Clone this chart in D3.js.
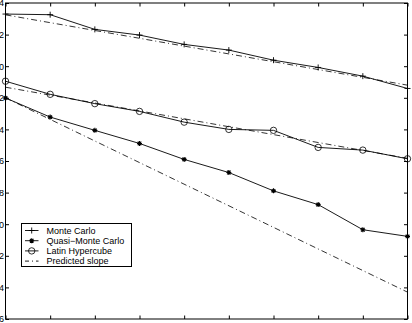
<!DOCTYPE html>
<html>
<head>
<meta charset="utf-8">
<script src="https://cdn.jsdelivr.net/npm/d3@7"></script>
<style>
  body { margin: 0; background: #fff; }
  svg { display: block; font-family: "Liberation Sans", Arial, sans-serif; }
</style>
</head>
<body>
<div id="chart"></div>
<script>
// x = log2 of sample count, y = log2 of error
var logN = [0, 1, 2, 3, 4, 5, 6, 7, 8, 9];
var monteCarlo = [3.30, 3.26, 2.33, 1.97, 1.38, 1.02, 0.38, -0.08, -0.63, -1.41];
var quasiMC = [-2.01, -3.22, -4.06, -4.89, -5.90, -6.73, -7.89, -8.76, -10.35, -10.77];
var latinHyper = [-0.95, -1.78, -2.37, -2.86, -3.54, -4.00, -4.06, -5.14, -5.31, -5.86];

// predicted slope lines, values at first and last x
var predX = [0, 9];
var predMC = [3.25, -1.2];
var predLHS = [-1.33, -5.83];
var predQMC = [-2.0, -14.3];

var yTicks = [4, 2, 0, -2, -4, -6, -8, -10, -12, -14, -16];
var legendNames = ["Monte Carlo", "Quasi\u2212Monte Carlo", "Latin Hypercube", "Predicted slope"];

var W = 412, H = 323;
// plot box (note: "top" is reserved on window, so prefixed names)
var pLeft = 5.5, pRight = 407.5, pTop = 3, pBottom = 319;

var svg = d3.select("#chart").append("svg")
    .attr("width", W)
    .attr("height", H);

var x = d3.scaleLinear().domain([0, 9]).range([pLeft, pRight]);
var y = d3.scaleLinear().domain([-16, 4]).range([pBottom, pTop]);

// axes, ticks inside like matlab; the y labels are cut by the left edge like the original
svg.append("g")
    .attr("transform", `translate(${pLeft},0)`)
    .call(d3.axisLeft(y).tickValues(yTicks).tickSize(-3.5).tickPadding(1.5)
        .tickFormat(function (d) { return d < 0 ? "\u2212" + Math.abs(d) : d; }))
    .call(function (g) {
        g.select(".domain").remove();
        g.selectAll("text").attr("font-size", 9).attr("fill", "#000")
            .attr("font-family", "Liberation Sans, Arial, sans-serif");
    });
svg.append("g")
    .attr("transform", `translate(${pRight},0)`)
    .call(d3.axisRight(y).tickValues(yTicks).tickSize(-3.5).tickFormat(""))
    .call(function (g) { g.select(".domain").remove(); });
svg.append("g")
    .attr("transform", `translate(0,${pBottom})`)
    .call(d3.axisBottom(x).tickValues(logN).tickSize(-3.5).tickFormat(""))
    .call(function (g) { g.select(".domain").remove(); });
svg.append("g")
    .attr("transform", `translate(0,${pTop})`)
    .call(d3.axisTop(x).tickValues(logN).tickSize(-3.5).tickFormat(""))
    .call(function (g) { g.select(".domain").remove(); });

svg.append("rect")
    .attr("x", pLeft).attr("y", pTop)
    .attr("width", pRight - pLeft).attr("height", pBottom - pTop)
    .attr("fill", "none").attr("stroke", "#000").attr("stroke-width", 1);

var line = d3.line()
    .x(function (d) { return x(d[0]); })
    .y(function (d) { return y(d[1]); });

// predicted slopes
[predMC, predLHS, predQMC].forEach(function (p) {
    svg.append("path")
        .attr("d", line(d3.zip(predX, p)))
        .attr("fill", "none")
        .attr("stroke", "#000")
        .attr("stroke-width", 0.8)
        .attr("stroke-dasharray", "6,3,1,3");
});

var plusPath = "M-3,0H3M0,-3V3";
var starPath = "M-2.5,0H2.5M0,-2.5V2.5M-1.8,-1.8L1.8,1.8M-1.8,1.8L1.8,-1.8";

function drawMarker(g, kind) {
    if (kind === "circle") {
        g.append("circle").attr("r", 3.2).attr("fill", "none")
            .attr("stroke", "#000").attr("stroke-width", 0.8);
    } else {
        g.append("path").attr("d", kind === "plus" ? plusPath : starPath)
            .attr("fill", "none").attr("stroke", "#000")
            .attr("stroke-width", kind === "plus" ? 0.9 : 1.1);
    }
}

var series = [
    { values: monteCarlo, marker: "plus" },
    { values: quasiMC, marker: "star" },
    { values: latinHyper, marker: "circle" }
];

series.forEach(function (s) {
    var pts = d3.zip(logN, s.values);
    svg.append("path")
        .attr("d", line(pts))
        .attr("fill", "none")
        .attr("stroke", "#000")
        .attr("stroke-width", 0.9);
    svg.append("g").selectAll("g")
        .data(pts)
        .join("g")
        .attr("transform", function (d) { return `translate(${x(d[0])},${y(d[1])})`; })
        .each(function () { drawMarker(d3.select(this), s.marker); });
});

// legend
var lg = svg.append("g").attr("transform", "translate(21.5,223.5)");
lg.append("rect")
    .attr("width", 110).attr("height", 43)
    .attr("fill", "#fff").attr("stroke", "#000").attr("stroke-width", 1);

var markers = ["plus", "star", "circle", null];
legendNames.forEach(function (name, i) {
    var row = lg.append("g").attr("transform", `translate(0,${7 + i * 10.2})`);
    row.append("line")
        .attr("x1", 3.5).attr("x2", 17)
        .attr("stroke", "#000").attr("stroke-width", 0.9)
        .attr("stroke-dasharray", markers[i] ? null : "4,3,1,3");
    if (markers[i]) {
        drawMarker(row.append("g").attr("transform", "translate(10.2,0)"), markers[i]);
    }
    row.append("text")
        .attr("x", 25)
        .attr("y", 3.2)
        .attr("font-size", 9)
        .text(name);
});
</script>
</body>
</html>
